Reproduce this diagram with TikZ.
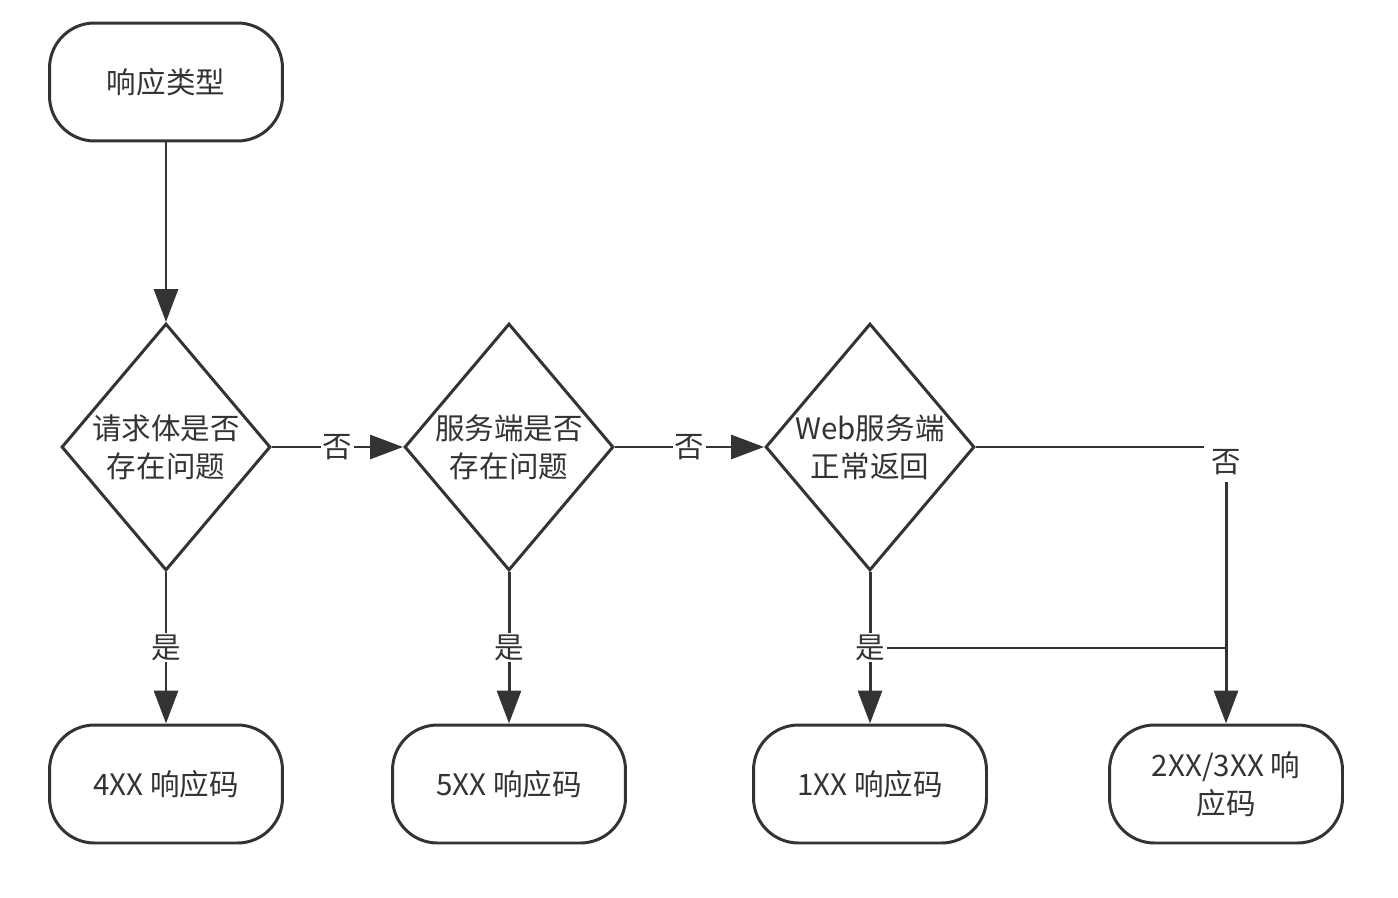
\documentclass[tikz,border=0pt]{standalone}
\usepackage{fontspec}
\setmainfont{Noto Sans CJK SC}
\usepackage{xcolor}
\usetikzlibrary{shapes.geometric,arrows.meta}
\definecolor{linegray}{RGB}{51,51,51}

\begin{document}
\begin{tikzpicture}[x=0.02cm, y=-0.02cm, >={Triangle[length=0.66cm,width=0.48cm]},
  every node/.style={text=linegray, font=\fontsize{16.8pt}{21.6pt}\selectfont},
  termbox/.style={draw=linegray, line width=1.7pt, rectangle, rounded corners=0.9cm,
    minimum width=4.66cm, minimum height=2.36cm, align=center},
  testbox/.style={draw=linegray, line width=1.7pt, diamond, aspect=0.85, inner sep=0pt,
    minimum width=4.18cm, minimum height=4.94cm, align=center},
  flow/.style={draw=linegray, line width=1.7pt},
  tag/.style={fill=white, inner sep=1pt}]
  \useasboundingbox (0,0) rectangle (1398,898);

  \node[termbox] (start) at (166,82) {响应类型};
  \node[testbox] (body) at (166,447) {请求体是否\\存在问题};
  \node[testbox] (server) at (509,447) {服务端是否\\存在问题};
  \node[testbox] (web) at (870,447) {Web服务端\\正常返回};

  \node[termbox] (code4) at (166,784) {4XX 响应码};
  \node[termbox] (code5) at (509,784) {5XX 响应码};
  \node[termbox] (code1) at (870,784) {1XX 响应码};
  \node[termbox] (code23) at (1226,784) {2XX/3XX 响\\应码};

  % cross line between the two last branches
  \coordinate (joinl) at (870,648);
  \coordinate (joinr) at (1226,648);
  \draw[flow] (joinl) -- (joinr);

  \draw[flow, ->] (start) -- (body);
  \draw[flow, ->] (body) -- node[tag] {否} (server);
  \draw[flow, ->] (server) -- node[tag] {否} (web);
  \draw[flow, ->] (body) -- node[tag] {是} (code4);
  \draw[flow, ->] (server) -- node[tag] {是} (code5);
  \draw[flow, ->] (web) -- node[tag] {是} (code1);
  \draw[flow, ->] (web.east) -| node[tag, inner sep=4pt, pos=0.527] {否} (code23.north);
\end{tikzpicture}
\end{document}
